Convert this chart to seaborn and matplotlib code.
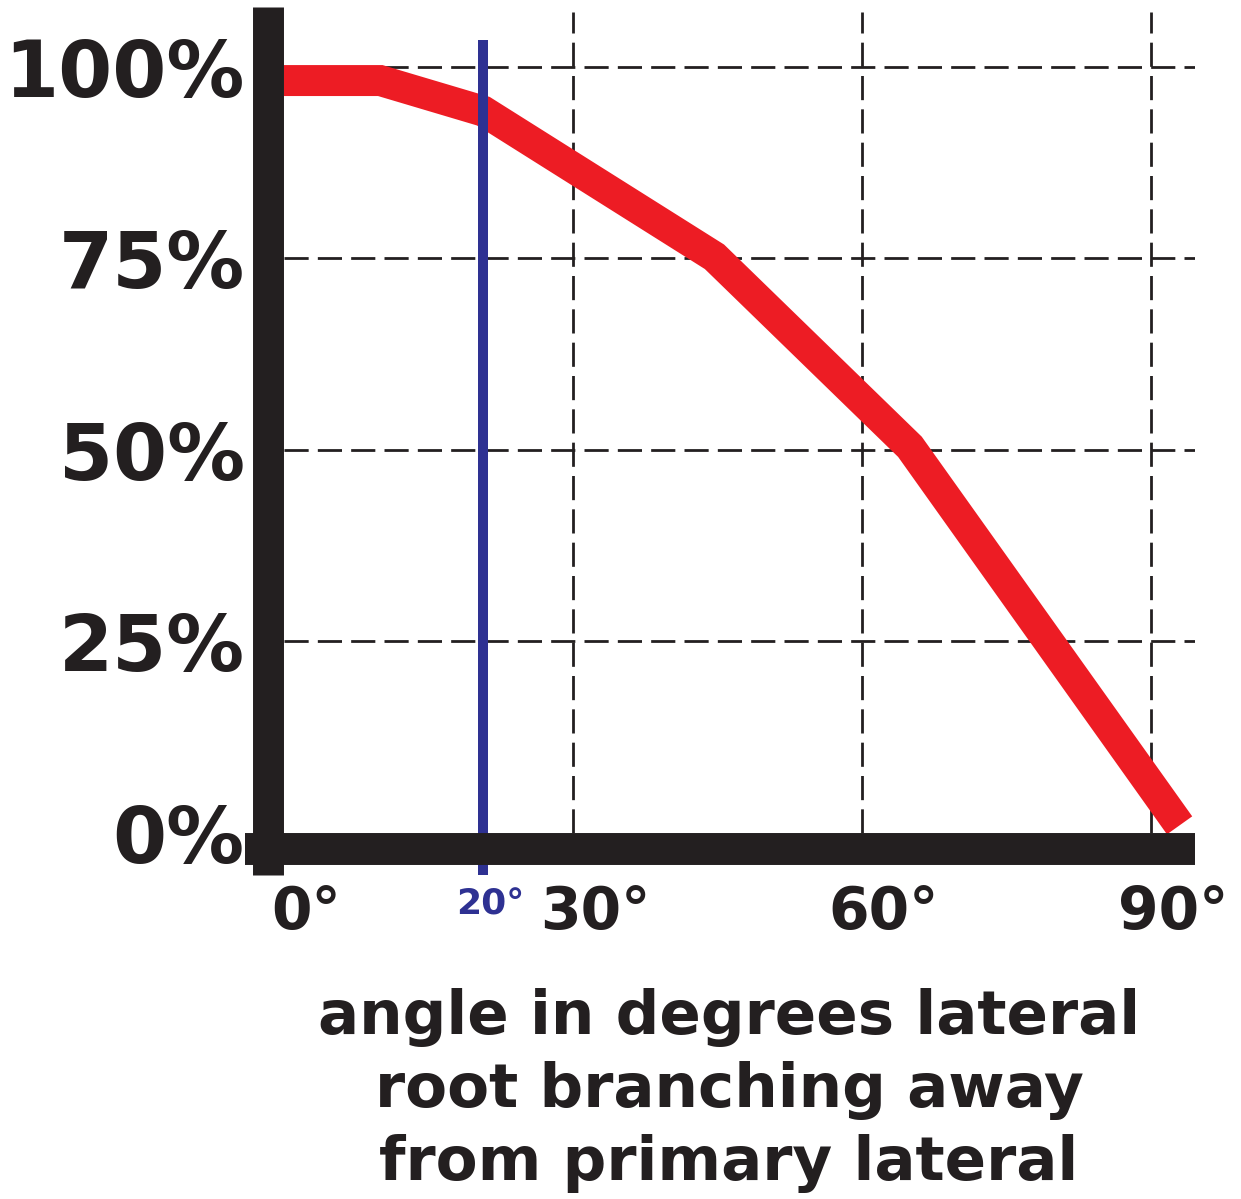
import matplotlib
matplotlib.use("Agg")
import matplotlib.pyplot as plt
import matplotlib.transforms as mtransforms
import seaborn as sns
import pandas as pd

# ---- data ----
angle_deg = [0, 10, 20.7, 44.7, 65.0, 93.0]
percent = [98.2, 98.2, 94.2, 75.2, 50.4, 1.0]
marker_angle = 20.7
marker_label = "20°"
x_ticks = [0, 30, 60, 90]
x_tick_labels = ["0°", "30°", "60°", "90°"]
y_ticks = [0, 25, 50, 75, 100]
y_tick_labels = ["0%", "25%", "50%", "75%", "100%"]
x_label = "angle in degrees lateral\nroot branching away\nfrom primary lateral"

RED = "#ED1C24"
BLUE = "#2E3192"
BLACK = "#231F20"

sns.set_theme(style="white")
plt.rcParams["font.family"] = ["DejaVu Sans"]

W, H = 1241, 1199
fig = plt.figure(figsize=(W / 100, H / 100), dpi=100)
left_px, right_px, top_px, bottom_px = 284, 1195, 7, 833
ax = fig.add_axes([left_px / W, (H - bottom_px) / H,
                   (right_px - left_px) / W, (bottom_px - top_px) / H])
ax.set_xlim(0, 94.6)
ax.set_ylim(0, 107.8)

df = pd.DataFrame({"angle": angle_deg, "pct": percent})

# grid
dash = (0, (8.7, 3.3))
for y in y_ticks[1:]:
    ax.axhline(y, color=BLACK, lw=2.0, linestyle=dash, zorder=1)
for x in x_ticks[1:]:
    ax.axvline(x, color=BLACK, lw=2.0, linestyle=dash, zorder=1, ymax=0.994)

sns.lineplot(data=df, x="angle", y="pct", ax=ax, sort=False, color=RED,
             linewidth=22.3, solid_capstyle="butt", solid_joinstyle="miter",
             clip_on=False, zorder=2)

ax.vlines(marker_angle, -5.5, 103.5, color=BLUE, linewidth=7.2,
          clip_on=False, zorder=2.2)

# spines
for s in ["top", "right"]:
    ax.spines[s].set_visible(False)
ax.spines["left"].set_position(("outward", 11.2))
ax.spines["left"].set_linewidth(22.3)
ax.spines["left"].set_color(BLACK)
ax.spines["left"].set_bounds(-5.5, 107.8)
ax.spines["left"].set_capstyle("butt")
ax.spines["left"].set_zorder(3)
ax.spines["bottom"].set_position(("outward", 11.5))
ax.spines["bottom"].set_linewidth(23)
ax.spines["bottom"].set_color(BLACK)
ax.spines["bottom"].set_bounds(-4.05, 94.6)
ax.spines["bottom"].set_capstyle("butt")
ax.spines["bottom"].set_zorder(3)

ax.set_xticks(x_ticks)
ax.set_xticklabels(x_tick_labels, fontsize=42, fontweight="bold", color=BLACK)
ax.set_yticks(y_ticks)
ax.set_yticklabels(y_tick_labels, fontsize=56, fontweight="bold", color=BLACK)
ax.tick_params(axis="both", length=0)
ax.tick_params(axis="y", pad=17)
ax.tick_params(axis="x", pad=25)
offset = mtransforms.ScaledTranslation(22 / 100, 0, fig.dpi_scale_trans)
for lab in ax.get_xticklabels():
    lab.set_transform(lab.get_transform() + offset)

ax.text(marker_angle, -10.7, marker_label, ha="center", va="baseline",
        fontsize=26, fontweight="bold", color=BLUE,
        transform=ax.transData + mtransforms.ScaledTranslation(7 / 100, 0, fig.dpi_scale_trans))

ax.set_xlabel(x_label, fontsize=44, fontweight="bold", color=BLACK,
              linespacing=1.3, va="top")
ax.xaxis.set_label_coords((729 - left_px) / (right_px - left_px),
                          -(988 - bottom_px) / (bottom_px - top_px))
ax.set_ylabel("")

fig.savefig("out.png", dpi=100, facecolor="white")
